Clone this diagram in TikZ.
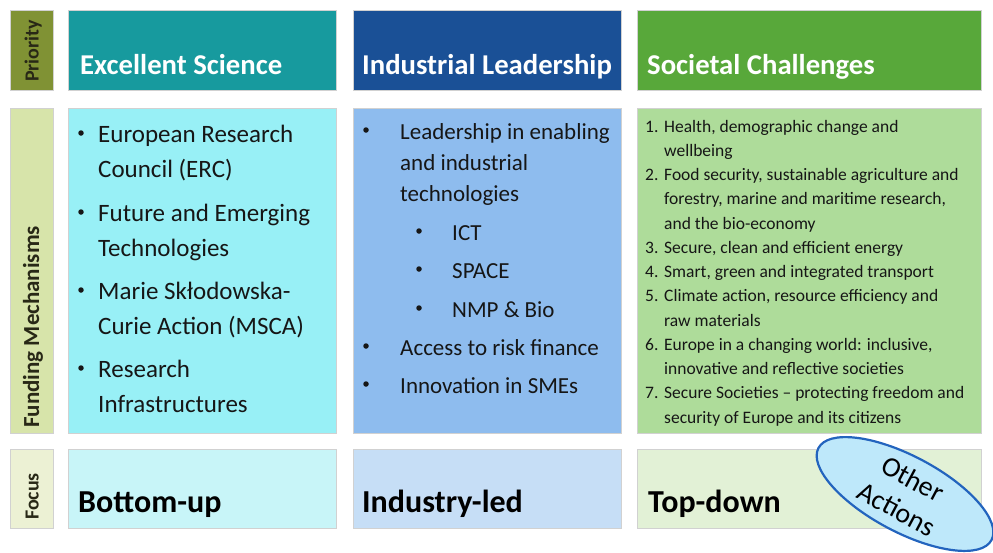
\documentclass[tikz,border=0pt]{standalone}
\usepackage{fontspec}
\setmainfont{Carlito}
\usetikzlibrary{shapes.geometric}
\definecolor{prioH}{RGB}{128,146,52}
\definecolor{prioF}{RGB}{215,228,170}
\definecolor{prioX}{RGB}{236,241,212}
\definecolor{esH}{RGB}{23,154,158}
\definecolor{esF}{RGB}{152,240,246}
\definecolor{esX}{RGB}{200,245,248}
\definecolor{ilH}{RGB}{26,80,150}
\definecolor{ilF}{RGB}{142,188,238}
\definecolor{ilX}{RGB}{198,222,246}
\definecolor{scH}{RGB}{88,168,58}
\definecolor{scF}{RGB}{174,220,154}
\definecolor{scX}{RGB}{226,241,214}
\definecolor{ellF}{RGB}{190,232,250}
\definecolor{ellD}{RGB}{35,100,190}
\definecolor{ink}{RGB}{22,22,22}
\definecolor{sideink}{RGB}{40,40,22}
\tikzset{
  cell/.style={draw=black!18, line width=0.8pt, anchor=north west, inner sep=0pt},
  hdr/.style={anchor=base west, inner sep=0pt, text=white, font=\fontsize{28.7}{34}\selectfont\bfseries},
  side/.style={anchor=base west, inner sep=0pt, rotate=90, text=sideink, font=\fontsize{20}{24}\selectfont\bfseries},
  esT/.style={anchor=base west, inner sep=0pt, text=ink, font=\fontsize{25}{30}\selectfont},
  ilT/.style={anchor=base west, inner sep=0pt, text=ink, font=\fontsize{23}{28}\selectfont},
  scT/.style={anchor=base west, inner sep=0pt, text=ink, font=\fontsize{17.5}{21}\selectfont},
  foc/.style={anchor=base west, inner sep=0pt, text=black, font=\fontsize{32}{38}\selectfont\bfseries},
  bul/.style={circle, fill=ink, inner sep=0pt, minimum size=5.5pt},
}
\begin{document}
\begin{tikzpicture}[x=1pt,y=-1pt]
\useasboundingbox (0,0) rectangle (993,552);
\fill[white] (0,0) rectangle (993,552);
% side column
\node[cell, fill=prioH, minimum width=43pt, minimum height=80pt] (pH) at (10,10) {};
\node[cell, fill=prioF, minimum width=43pt, minimum height=325pt] (pF) at (10,108) {};
\node[cell, fill=prioX, minimum width=43pt, minimum height=79pt] (pX) at (10,449) {};
\node[side] (lp) at (38.5,82) {Priority};
\node[side, font=\fontsize{23}{26}\selectfont\bfseries] (lf) at (39,428) {Funding Mechanisms};
\node[side] (lx) at (38.5,520) {Focus};
% column 1
\node[cell, fill=esH, minimum width=268pt, minimum height=80pt] (esh) at (68,10) {};
\node[cell, fill=esF, minimum width=268pt, minimum height=325pt] (esf) at (68,108) {};
\node[cell, fill=esX, minimum width=268pt, minimum height=79pt] (esx) at (68,449) {};
% column 2
\node[cell, fill=ilH, minimum width=268pt, minimum height=80pt] (ilh) at (353,10) {};
\node[cell, fill=ilF, minimum width=268pt, minimum height=325pt] (ilf) at (353,108) {};
\node[cell, fill=ilX, minimum width=268pt, minimum height=79pt] (ilx) at (353,449) {};
% column 3
\node[cell, fill=scH, minimum width=344pt, minimum height=80pt] (sch) at (637,10) {};
\node[cell, fill=scF, minimum width=344pt, minimum height=325pt] (scf) at (637,108) {};
\node[cell, fill=scX, minimum width=344pt, minimum height=79pt] (scx) at (637,449) {};
% headers
\node[hdr] (t1) at (80,74) {Excellent Science};
\node[hdr] (t2) at (362,74) {Industrial Leadership};
\node[hdr] (t3) at (647,74) {Societal Challenges};
% column 1 text
\foreach \t/\yy [count=\i] in {European Research/142, Council (ERC)/177, Future and Emerging/221, Technologies/256, Marie Skłodowska-/299, Curie Action (MSCA)/334, Research/377, Infrastructures/412}
  \node[esT] (es\i) at (98,\yy) {\t};
\foreach \yy [count=\i] in {142,221,299,377}
  \node[bul] (esb\i) at (81,\yy-9) {};
% column 2 text
\foreach \t/\yy [count=\i] in {Leadership in enabling/139, and industrial/170, technologies/201, Access to risk finance/355, Innovation in SMEs/393}
  \node[ilT] (il\i) at (400,\yy) {\t};
\foreach \t/\yy [count=\i] in {ICT/240, SPACE/278, NMP \& Bio/317}
  \node[ilT] (ils\i) at (452,\yy) {\t};
\foreach \yy [count=\i] in {139,355,393}
  \node[bul] (ilb\i) at (366,\yy-9) {};
\foreach \yy [count=\i] in {240,278,317}
  \node[bul] (ilsb\i) at (419,\yy-9) {};
% column 3 text
\foreach \t [count=\i] in {{Health, demographic change and}, wellbeing, {Food security, sustainable agriculture and}, {forestry, marine and maritime research,}, and the bio-economy, {Secure, clean and efficient energy}, {Smart, green and integrated transport}, {Climate action, resource efficiency and}, raw materials, {Europe in a changing world: inclusive,}, innovative and reflective societies, {Secure Societies – protecting freedom and}, security of Europe and its citizens}
  \node[scT] (sc\i) at (664,{132+24.25*(\i-1)}) {\t};
\foreach \n/\k in {1/1, 2/3, 3/6, 4/7, 5/8, 6/10, 7/12}
  \node[scT] (scn\n) at (645,{132+24.25*(\k-1)}) {\n.};
% focus row
\node[foc] (f1) at (78,512) {Bottom-up};
\node[foc] (f2) at (362,512) {Industry-led};
\node[foc] (f3) at (648,512) {Top-down};
% other actions ellipse
\node[ellipse, draw=ellD, fill=ellF, line width=2.2pt, minimum width=196pt, minimum height=74pt, rotate=-28, inner sep=0pt, align=center, text=black, font=\fontsize{28}{34}\selectfont] (oa) at (905,494) {Other\\Actions};
\end{tikzpicture}
\end{document}
